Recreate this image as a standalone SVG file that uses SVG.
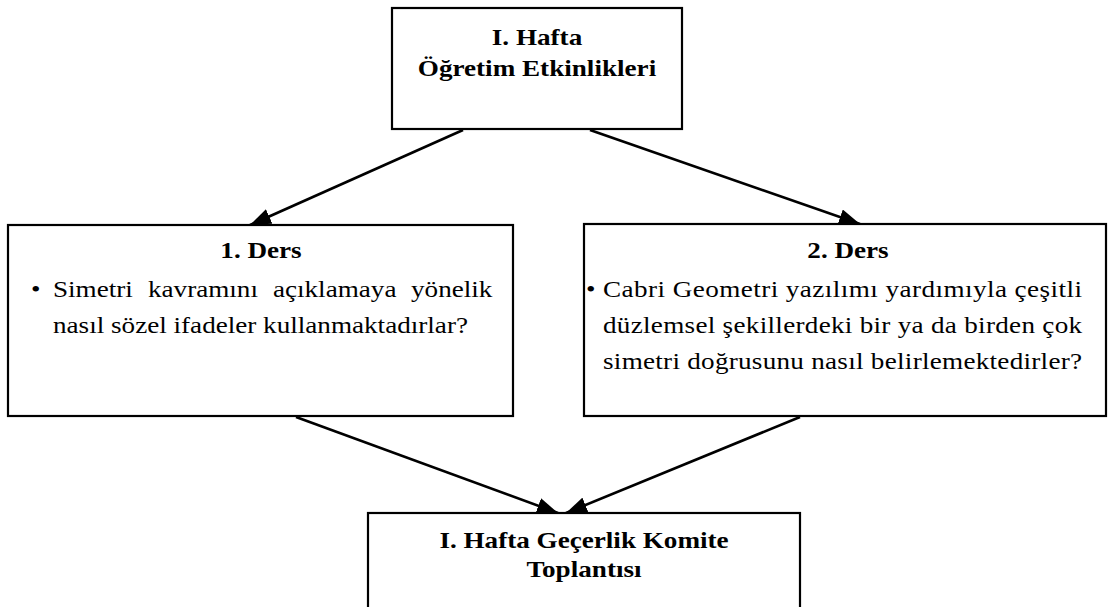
<svg xmlns="http://www.w3.org/2000/svg" width="1110" height="607" viewBox="0 0 1110 607">
  <style>
    .box { fill: #ffffff; stroke: #000000; stroke-width: 2.2; }
    .link { fill: none; stroke: #000000; stroke-width: 2.6; }
    text { font-family: "Liberation Serif", "Times New Roman", serif; font-size: 23px; fill: #000000; }
    .b { font-weight: bold; text-anchor: middle; }
    .r { font-weight: normal; }
  </style>
  <defs>
    <marker id="ah" markerUnits="userSpaceOnUse" markerWidth="22" markerHeight="16" refX="21" refY="8" orient="auto">
      <path d="M0,0 L21,8 L0,16 z" fill="#000000"/>
    </marker>
  </defs>
  <rect width="1110" height="607" fill="#ffffff"/>

  <!-- connectors -->
  <g id="connectors">
    <line class="link" x1="463" y1="130" x2="250" y2="225" marker-end="url(#ah)"/>
    <line class="link" x1="590" y1="130" x2="860" y2="224" marker-end="url(#ah)"/>
    <line class="link" x1="296" y1="417" x2="558" y2="513" marker-end="url(#ah)"/>
    <line class="link" x1="800" y1="417" x2="566" y2="513" marker-end="url(#ah)"/>
  </g>

  <!-- week I: teaching activities -->
  <g id="node-hafta">
    <rect class="box" x="392" y="8" width="290" height="121"/>
    <text class="b" transform="translate(537,45) scale(1.18,1)">I. Hafta</text>
    <text class="b" transform="translate(537,76) scale(1.18,1)">Öğretim Etkinlikleri</text>
  </g>

  <!-- lesson 1 -->
  <g id="node-ders1">
    <rect class="box" x="8" y="225" width="505" height="191"/>
    <text class="b" transform="translate(261,258) scale(1.18,1)">1. Ders</text>
    <text class="r" transform="translate(31,297) scale(1.18,1)">•</text>
    <text class="r" transform="translate(53,297) scale(1.18,1)"><tspan x="0">Simetri</tspan><tspan x="80.5">kavramını</tspan><tspan x="186.4">açıklamaya</tspan><tspan x="303.4">yönelik</tspan></text>
    <text class="r" transform="translate(53,333) scale(1.18,1)">nasıl sözel ifadeler kullanmaktadırlar?</text>
  </g>

  <!-- lesson 2 -->
  <g id="node-ders2">
    <rect class="box" x="584" y="224" width="522" height="192"/>
    <text class="b" transform="translate(848,258) scale(1.18,1)">2. Ders</text>
    <text class="r" transform="translate(586,297) scale(1.18,1)">•</text>
    <text class="r" transform="translate(603,297) scale(1.18,1)" textLength="406" lengthAdjust="spacing">Cabri Geometri yazılımı yardımıyla çeşitli</text>
    <text class="r" transform="translate(603,333) scale(1.18,1)" textLength="406" lengthAdjust="spacing">düzlemsel şekillerdeki bir ya da birden çok</text>
    <text class="r" transform="translate(603,369) scale(1.18,1)" textLength="406" lengthAdjust="spacing">simetri doğrusunu nasıl belirlemektedirler?</text>
  </g>

  <!-- week I validity committee meeting -->
  <g id="node-komite">
    <rect class="box" x="368" y="513" width="432" height="120"/>
    <text class="b" transform="translate(584,548) scale(1.18,1)">I. Hafta Geçerlik Komite</text>
    <text class="b" transform="translate(584,577) scale(1.18,1)">Toplantısı</text>
  </g>
</svg>
